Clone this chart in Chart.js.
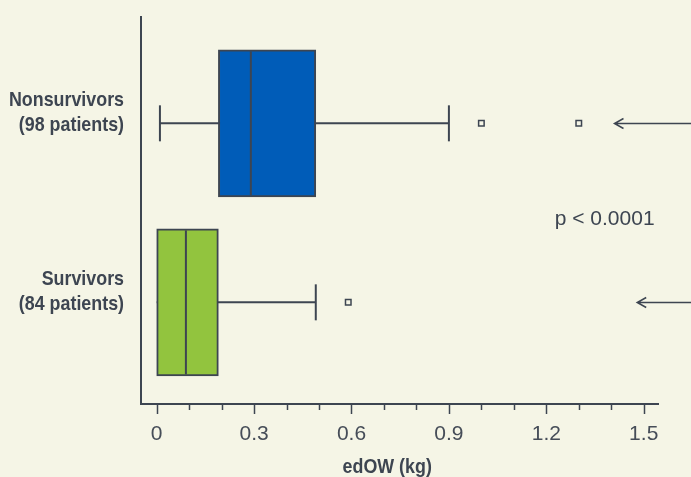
<!DOCTYPE html>
<html>
<head>
<meta charset="utf-8">
<script src="https://cdn.jsdelivr.net/npm/chart.js@4"></script>
<style>
  html, body { margin: 0; padding: 0; background: #f5f5e6; }
  .chart-box { width: 691px; height: 477px; }
</style>
</head>
<body>
<div class="chart-box"><canvas id="edow"></canvas></div>
<script>
// data
const groups = ['Nonsurvivors', 'Survivors'];
const patients = [98, 84];
const groupPos = [1, 0];
const whiskerLow = [0.01, 0];
const q1 = [0.19, 0];
const median = [0.29, 0.09];
const q3 = [0.49, 0.19];
const whiskerHigh = [0.9, 0.49];
const outliers = [[1.0, 1.3], [0.59]];
const arrowFrom = [1.41, 1.48];
const xTicks = [0, 0.1, 0.2, 0.3, 0.4, 0.5, 0.6, 0.7, 0.8, 0.9, 1.0, 1.1, 1.2, 1.3, 1.4, 1.5];
const xTickLabels = ['0', '', '', '0.3', '', '', '0.6', '', '', '0.9', '', '', '1.2', '', '', '1.5'];
const xTitle = 'edOW (kg)';
const pText = 'p < 0.0001';

const INK = '#3d4551';
const BG = '#f5f5e6';
const boxColors = ['#005cb8', '#92c43e'];
const PLAIN = "'Liberation Sans', Arial, sans-serif";
const SQUEEZE = 0.85; // no condensed bold installed, so squeeze the bold labels

// whisker line per group (drawn under the box)
const whiskerSets = groups.map((g, i) => ({
    type: 'scatter',
    showLine: true,
    data: [{x: whiskerLow[i], y: groupPos[i]}, {x: whiskerHigh[i], y: groupPos[i]}],
    borderColor: INK,
    borderWidth: 2,
    pointRadius: 0,
    order: 4
}));

// caps only where the whisker sticks out of the box
const caps = [];
groups.forEach((g, i) => {
    if (whiskerLow[i] < q1[i]) caps.push({x: whiskerLow[i], y: groupPos[i]});
    if (whiskerHigh[i] > q3[i]) caps.push({x: whiskerHigh[i], y: groupPos[i]});
});

function squeezedText(ctx, text, x, y, align) {
    ctx.save();
    ctx.translate(x, y);
    ctx.scale(SQUEEZE, 1);
    ctx.textAlign = align;
    ctx.fillText(text, 0, 0);
    ctx.restore();
}

const extras = {
    id: 'extras',
    afterDraw(chart) {
        const {ctx, scales: {x, y}} = chart;
        ctx.save();
        ctx.strokeStyle = INK;
        ctx.lineWidth = 1.5;
        // x tick marks, longer where labelled
        x.ticks.forEach((t) => {
            const px = Math.round(x.getPixelForValue(t.value)) + 0.5;
            const len = t.label ? 10 : 6;
            ctx.beginPath();
            ctx.moveTo(px, x.top);
            ctx.lineTo(px, x.top + len);
            ctx.stroke();
        });
        // arrows coming in from the right edge
        groups.forEach((g, i) => {
            const px = x.getPixelForValue(arrowFrom[i]);
            const py = Math.round(y.getPixelForValue(groupPos[i])) + 0.5;
            ctx.beginPath();
            ctx.moveTo(chart.width, py);
            ctx.lineTo(px, py);
            ctx.moveTo(px + 9, py - 5);
            ctx.lineTo(px, py);
            ctx.lineTo(px + 9, py + 5);
            ctx.stroke();
        });
        ctx.fillStyle = INK;
        // group labels
        ctx.font = 'bold 21px ' + PLAIN;
        ctx.textBaseline = 'alphabetic';
        groups.forEach((g, i) => {
            const py = y.getPixelForValue(groupPos[i]);
            squeezedText(ctx, g, y.right - 17, py - 17, 'right');
            squeezedText(ctx, `(${patients[i]} patients)`, y.right - 17, py + 8, 'right');
        });
        // axis title
        squeezedText(ctx, xTitle, x.getPixelForValue(0.71), 473, 'center');
        // p value
        ctx.font = '21px ' + PLAIN;
        ctx.textAlign = 'left';
        ctx.fillText(pText, x.getPixelForValue(1.226), 225);
        ctx.restore();
    }
};

const config = {
    type: 'scatter',
    data: {
        datasets: [
            ...whiskerSets,
            {
                // whisker caps
                type: 'scatter',
                data: caps,
                pointStyle: 'line',
                rotation: 90,
                radius: 18,
                borderColor: INK,
                borderWidth: 2,
                order: 3
            },
            {
                // boxes q1..q3
                type: 'bar',
                indexAxis: 'y',
                data: groups.map((g, i) => ({x: [q1[i], q3[i]], y: groupPos[i]})),
                backgroundColor: boxColors,
                borderColor: INK,
                borderWidth: 2,
                borderSkipped: false,
                barThickness: 147,
                order: 2
            },
            {
                // medians
                type: 'scatter',
                data: groups.map((g, i) => ({x: median[i], y: groupPos[i]})),
                pointStyle: 'line',
                rotation: 90,
                radius: 72,
                borderColor: INK,
                borderWidth: 2,
                order: 1
            },
            {
                // outliers
                type: 'scatter',
                data: groups.flatMap((g, i) => outliers[i].map(v => ({x: v, y: groupPos[i]}))),
                pointStyle: 'rect',
                radius: 3.9,
                backgroundColor: BG,
                borderColor: INK,
                borderWidth: 1.5,
                order: 0
            }
        ]
    },
    options: {
        animation: false,
        responsive: true,
        maintainAspectRatio: false,
        layout: {
            autoPadding: false,
            padding: {top: 17, right: 33, left: 0, bottom: 0}
        },
        plugins: {
            legend: {display: false},
            tooltip: {enabled: false}
        },
        scales: {
            x: {
                type: 'linear',
                min: -0.0483,
                max: 1.544,
                offset: false,
                afterBuildTicks: (scale) => {
                    scale.ticks = xTicks.map(v => ({value: v}));
                },
                afterFit: (scale) => {
                    scale.height = 73;
                },
                grid: {display: false},
                border: {display: true, color: INK, width: 2},
                ticks: {
                    autoSkip: false,
                    maxRotation: 0,
                    padding: 10,
                    color: '#464d58',
                    font: {family: PLAIN, size: 21},
                    callback: (value, index) => xTickLabels[index]
                }
            },
            y: {
                type: 'linear',
                min: -0.568,
                max: 1.594,
                offset: false,
                afterBuildTicks: (scale) => {
                    scale.ticks = groupPos.map(v => ({value: v}));
                },
                afterFit: (scale) => {
                    scale.width = 141;
                },
                grid: {display: false, offset: false},
                border: {display: true, color: INK, width: 2},
                ticks: {display: false}
            }
        }
    },
    plugins: [extras]
};

new Chart(document.getElementById('edow'), config);
</script>
</body>
</html>
